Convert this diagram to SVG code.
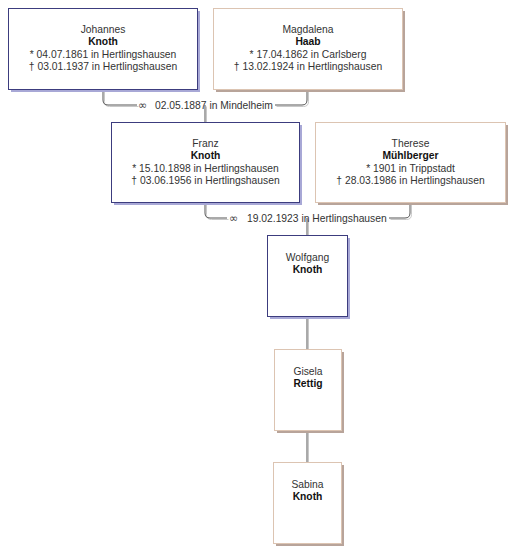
<svg xmlns="http://www.w3.org/2000/svg" width="520" height="560" viewBox="0 0 520 560">
<style>
text{font-family:"Liberation Sans",Arial,sans-serif;font-size:10.3px;fill:#333;}
.c{text-anchor:middle;}
.b{font-weight:bold;fill:#111;}
.m{fill:#fff;stroke:#3c3c7e;stroke-width:1;}
.ms{fill:#a8a8d6;}
.f{fill:#fff;stroke:#dcc4b2;stroke-width:1;}
.fs{fill:#b8a49a;}
.ln{fill:none;stroke:#555;stroke-width:1;}
.lh{fill:none;stroke:#c8c8c8;stroke-width:1;}
.sym{font-family:"DejaVu Sans",sans-serif;font-size:11px;fill:#444;}
</style>
<rect width="520" height="560" fill="#fff"/>
<g id="connectors">
<g transform="translate(1.5,1.5)">
<path class="lh" d="M103,89 V100 Q103,105 108,105 H137 M275,105 H302 Q307,105 307,100 V89 M205,105 V122"/>
<path class="lh" d="M205,202 V213 Q205,218 210,218 H227 M389,218 H405 Q410,218 410,213 V202 M307,218 V235"/>
<path class="lh" d="M307,316 V349 M307,430 V462"/>
</g>
<path class="ln" d="M103,89 V100 Q103,105 108,105 H137 M275,105 H302 Q307,105 307,100 V89 M205,105 V122"/>
<path class="ln" d="M205,202 V213 Q205,218 210,218 H227 M389,218 H405 Q410,218 410,213 V202 M307,218 V235"/>
<path class="ln" d="M307,316 V349 M307,430 V462"/>
<text x="138" y="109"><tspan class="sym">∞</tspan><tspan x="155">02.05.1887 in Mindelheim</tspan></text>
<text x="229" y="222"><tspan class="sym">∞</tspan><tspan x="247">19.02.1923 in Hertlingshausen</tspan></text>
</g>
<g id="johannes">
<rect class="ms" x="11" y="11" width="189" height="81"/>
<rect class="m" x="8.5" y="8.5" width="189" height="81"/>
<text class="c" x="103" y="33">Johannes</text>
<text class="c b" x="103" y="45">Knoth</text>
<text class="c" x="103" y="58">*  04.07.1861 in Hertlingshausen</text>
<text class="c" x="103" y="70">† 03.01.1937 in Hertlingshausen</text>
</g>
<g id="magdalena">
<rect class="fs" x="216" y="11" width="189" height="81"/>
<rect class="f" x="213.5" y="8.5" width="189" height="81"/>
<text class="c" x="308" y="33">Magdalena</text>
<text class="c b" x="308" y="45">Haab</text>
<text class="c" x="308" y="58">*  17.04.1862 in Carlsberg</text>
<text class="c" x="308" y="70">† 13.02.1924 in Hertlingshausen</text>
</g>
<g id="franz">
<rect class="ms" x="114" y="125" width="188" height="80"/>
<rect class="m" x="111.5" y="122.5" width="188" height="80"/>
<text class="c" x="205.5" y="147">Franz</text>
<text class="c b" x="205.5" y="159">Knoth</text>
<text class="c" x="205.5" y="172">*  15.10.1898 in Hertlingshausen</text>
<text class="c" x="205.5" y="184">† 03.06.1956 in Hertlingshausen</text>
</g>
<g id="therese">
<rect class="fs" x="318" y="125" width="190" height="80"/>
<rect class="f" x="315.5" y="122.5" width="190" height="80"/>
<text class="c" x="410.5" y="147">Therese</text>
<text class="c b" x="410.5" y="159">Mühlberger</text>
<text class="c" x="410.5" y="172">*  1901 in Trippstadt</text>
<text class="c" x="410.5" y="184">† 28.03.1986 in Hertlingshausen</text>
</g>
<g id="wolfgang">
<rect class="ms" x="270" y="238" width="80" height="81"/>
<rect class="m" x="267.5" y="235.5" width="80" height="81"/>
<text class="c" x="307.5" y="261">Wolfgang</text>
<text class="c b" x="307.5" y="273">Knoth</text>
</g>
<g id="gisela">
<rect class="fs" x="277" y="352" width="67" height="81"/>
<rect class="f" x="274.5" y="349.5" width="67" height="81"/>
<text class="c" x="308" y="375">Gisela</text>
<text class="c b" x="308" y="387">Rettig</text>
</g>
<g id="sabina">
<rect class="fs" x="276" y="465" width="68" height="81"/>
<rect class="f" x="273.5" y="462.5" width="68" height="81"/>
<text class="c" x="307.5" y="488">Sabina</text>
<text class="c b" x="307.5" y="500">Knoth</text>
</g>
</svg>
